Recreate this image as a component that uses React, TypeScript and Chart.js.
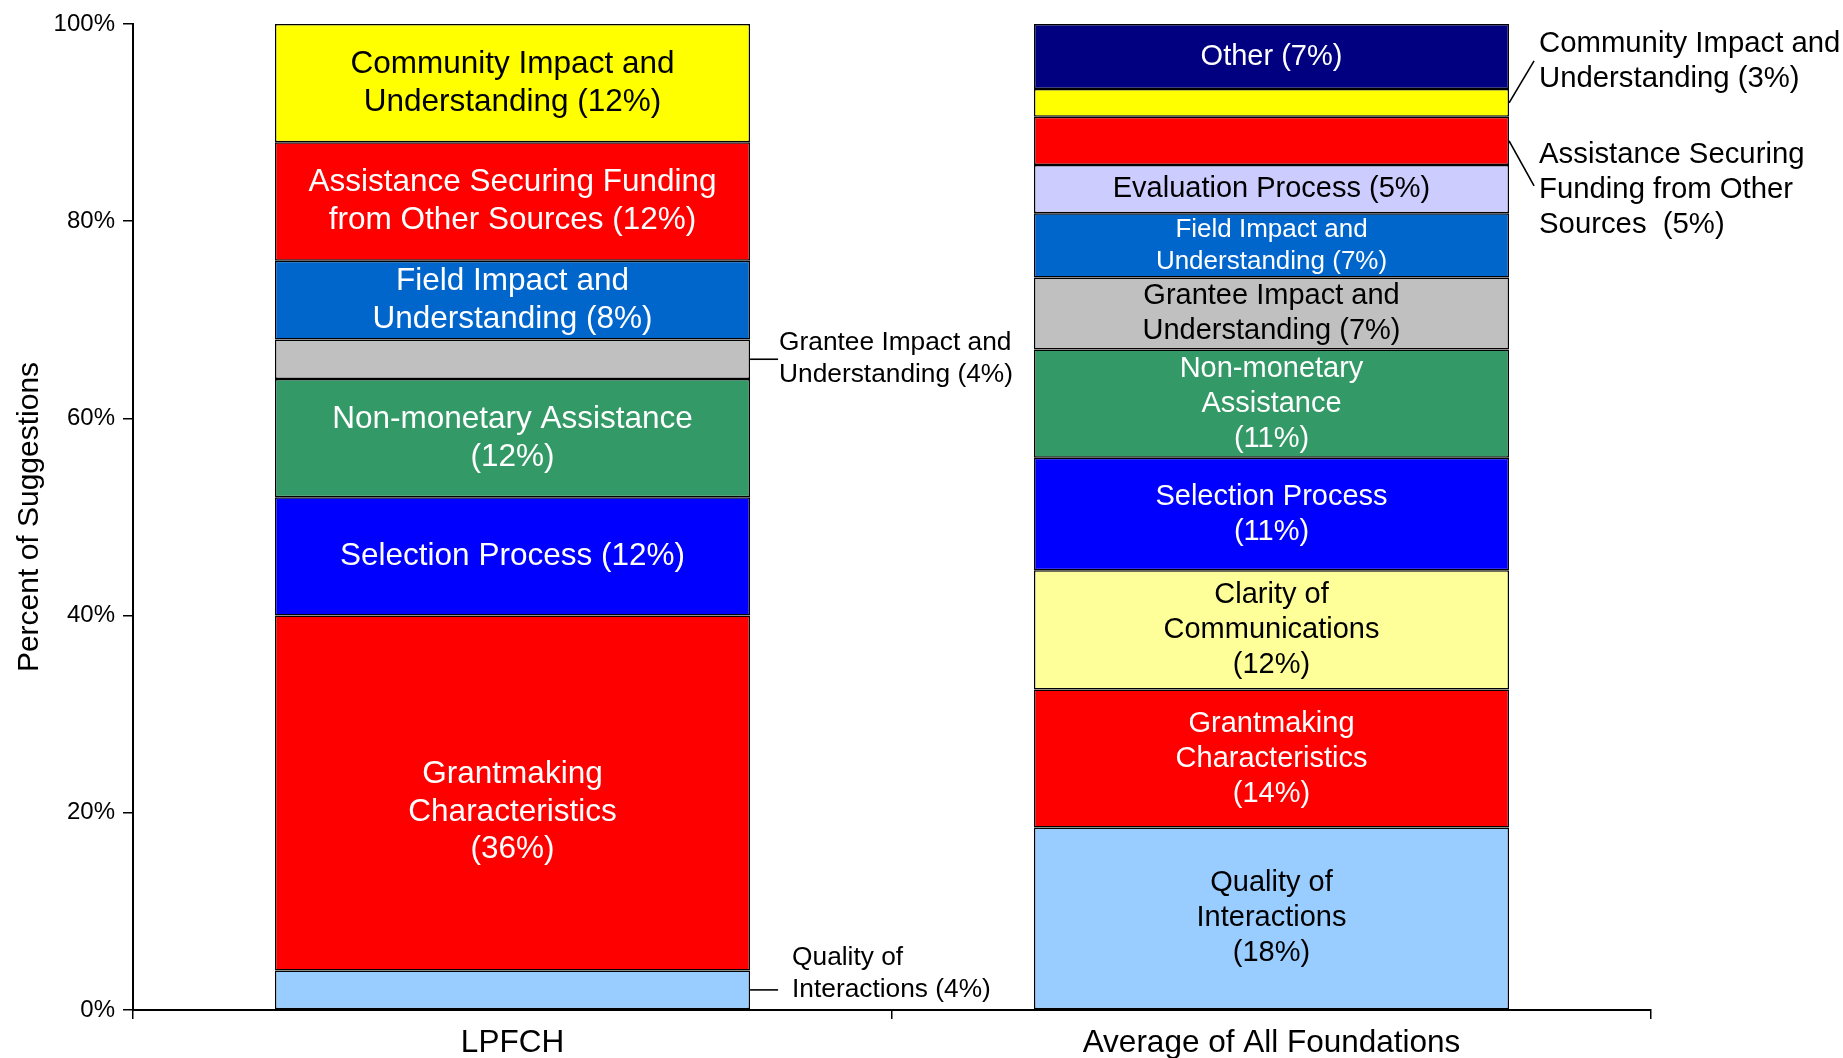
import React, { useEffect, useRef } from "react";
import { Chart, registerables } from "chart.js";

Chart.register(...registerables);

// ---------- DATA ----------
const categories = ["LPFCH", "Average of All Foundations"];

const topics = [
  "Quality of Interactions",
  "Grantmaking Characteristics",
  "Clarity of Communications",
  "Selection Process",
  "Non-monetary Assistance",
  "Grantee Impact and Understanding",
  "Field Impact and Understanding",
  "Evaluation Process",
  "Assistance Securing Funding from Other Sources",
  "Community Impact and Understanding",
  "Other",
];

const lpfchValues = [4, 36, null, 12, 12, 4, 8, null, 12, 12, null];
const averageValues = [18.5, 14.0, 12.1, 11.4, 11.0, 7.3, 6.5, 4.9, 4.9, 2.8, 6.6];

const yTickValues = [0, 20, 40, 60, 80, 100];
const yAxisTitle = "Percent of Suggestions";

// labels drawn inside the segments
const lpfchLabels = [
  null,
  ["", "Grantmaking", "Characteristics", "(36%)"],
  null,
  ["Selection Process (12%)"],
  ["Non-monetary Assistance", "(12%)"],
  null,
  ["Field Impact and", "Understanding (8%)"],
  null,
  ["Assistance Securing Funding", "from Other Sources (12%)"],
  ["Community Impact and", "Understanding (12%)"],
  null,
];
const averageLabels = [
  ["Quality of", "Interactions", "(18%)"],
  ["Grantmaking", "Characteristics", "(14%)"],
  ["Clarity of", "Communications", "(12%)"],
  ["Selection Process", "(11%)"],
  ["Non-monetary", "Assistance", "(11%)"],
  ["Grantee Impact and", "Understanding (7%)"],
  ["Field Impact and", "Understanding (7%)"],
  ["Evaluation Process (5%)"],
  null,
  null,
  ["Other (7%)"],
];

// labels drawn outside with leader lines: [topic index, category index, lines]
const calloutTopics = [5, 0, 9, 8];
const calloutCategories = [0, 0, 1, 1];
const calloutLines = [
  ["Grantee Impact and", "Understanding (4%)"],
  ["Quality of", "Interactions (4%)"],
  ["Community Impact and", "Understanding (3%)"],
  ["Assistance Securing", "Funding from Other", "Sources  (5%)"],
];

// ---------- STYLE ----------
const topicColors = [
  "#99CCFF",
  "#FF0000",
  "#FFFF99",
  "#0000FF",
  "#339966",
  "#C0C0C0",
  "#0066CC",
  "#CCCCFF",
  "#FF0000",
  "#FFFF00",
  "#000080",
];
const topicTextColors = [
  "#000", "#fff", "#000", "#fff", "#fff", "#000", "#fff", "#000", "#fff", "#000", "#fff",
];
const FONT = "'Liberation Sans', Arial, Helvetica, sans-serif";
const innerFontSize = [31.5, 29];
const innerLineHeight = [37.6, 35];
// smaller font for the field segment of the average bar
const smallInner = { topic: 6, cat: 1, size: 26, line: 32 };

// callout geometry (px): leader end dx, dy from bar edge/segment centre, text x offset, text block dy, font, line height
const calloutStyle = [
  { lx: 28, ly: 0, tx: 29, ty: 0, size: 26.3, line: 32 },
  { lx: 28, ly: 0, tx: 42, ty: -16, size: 26.3, line: 32 },
  { lx: 25, ly: -42, tx: 30, ty: -41, size: 29.3, line: 35 },
  { lx: 25, ly: 45, tx: 30, ty: 49, size: 29.3, line: 35 },
];

const labelPlugin = {
  id: "segmentLabels",
  afterDatasetsDraw(chart: any) {
    const ctx = chart.ctx;
    ctx.save();
    ctx.textAlign = "center";
    ctx.textBaseline = "middle";
    const labelSets = [lpfchLabels, averageLabels];
    topics.forEach((_, t) => {
      const meta = chart.getDatasetMeta(t);
      for (let c = 0; c < categories.length; c++) {
        const lines = labelSets[c][t];
        const el: any = meta.data[c];
        if (!lines || !el) continue;
        const props = el.getProps(["x", "y", "base"], true);
        const cy = (props.y + props.base) / 2;
        let size = innerFontSize[c];
        let lh = innerLineHeight[c];
        if (t === smallInner.topic && c === smallInner.cat) {
          size = smallInner.size;
          lh = smallInner.line;
        }
        ctx.font = `${size}px ${FONT}`;
        ctx.fillStyle = topicTextColors[t];
        const n = lines.length;
        lines.forEach((ln: string, i: number) => {
          ctx.fillText(ln, props.x, cy + (i - (n - 1) / 2) * lh);
        });
      }
    });

    // callouts
    calloutTopics.forEach((t, k) => {
      const c = calloutCategories[k];
      const el: any = chart.getDatasetMeta(t).data[c];
      if (!el) return;
      const p = el.getProps(["x", "y", "base", "width"], true);
      const right = p.x + p.width / 2;
      const cy = (p.y + p.base) / 2;
      const st = calloutStyle[k];
      ctx.strokeStyle = "#000";
      ctx.lineWidth = 1.6;
      ctx.beginPath();
      ctx.moveTo(right, cy);
      ctx.lineTo(right + st.lx, cy + st.ly);
      ctx.stroke();
      ctx.font = `${st.size}px ${FONT}`;
      ctx.fillStyle = "#000";
      ctx.textAlign = "left";
      const lines = calloutLines[k];
      const n = lines.length;
      lines.forEach((ln, i) => {
        ctx.fillText(ln, right + st.tx, cy + st.ty + (i - (n - 1) / 2) * st.line);
      });
    });
    ctx.restore();
  },
};

export default function App() {
  const canvasRef = useRef<HTMLCanvasElement | null>(null);

  useEffect(() => {
    if (!canvasRef.current) return;
    const datasets = topics.map((name, t) => ({
      label: name,
      data: [lpfchValues[t], averageValues[t]],
      backgroundColor: topicColors[t],
      borderColor: "#000",
      borderWidth: 1.5,
      borderSkipped: false,
      barPercentage: 0.626,
      categoryPercentage: 1,
    }));

    const chart = new Chart(canvasRef.current, {
      type: "bar",
      data: { labels: categories, datasets },
      plugins: [labelPlugin],
      options: {
        animation: false,
        responsive: false,
        devicePixelRatio: 1,
        layout: { padding: { left: 0, top: 24, right: 192, bottom: 0 } },
        plugins: {
          legend: { display: false },
          tooltip: { enabled: false },
          title: { display: false },
        },
        scales: {
          x: {
            stacked: true,
            offset: true,
            grid: {
              display: true,
              offset: true,
              drawOnChartArea: false,
              drawTicks: true,
              tickLength: 9,
              color: "#000",
              lineWidth: 1.5,
            },
            border: { display: true, color: "#000", width: 2 },
            ticks: {
              color: "#000",
              font: { family: FONT, size: 31.5 },
              padding: 5,
            },
            afterFit(scale: any) {
              scale.height = 48;
            },
          },
          y: {
            stacked: true,
            min: 0,
            max: 100,
            afterBuildTicks(scale: any) {
              scale.ticks = yTickValues.map((v) => ({ value: v }));
            },
            grid: {
              display: true,
              drawOnChartArea: false,
              drawTicks: true,
              tickLength: 10,
              color: "#000",
              lineWidth: 1.5,
            },
            border: { display: true, color: "#000", width: 2 },
            ticks: {
              color: "#000",
              font: { family: FONT, size: 24 },
              padding: 8,
              callback: (v: any) => `${v}%`,
            },
            title: {
              display: true,
              text: yAxisTitle,
              color: "#000",
              font: { family: FONT, size: 30 },
              padding: { top: 12, bottom: 0 },
            },
            afterFit(scale: any) {
              scale.width = 133;
            },
          },
        },
      },
    });
    return () => chart.destroy();
  }, []);

  return (
    <div style={{ position: "fixed", left: 0, top: 0, width: 1843, height: 1058, background: "#fff" }}>
      <canvas ref={canvasRef} width={1843} height={1058} style={{ width: 1843, height: 1058 }} />
    </div>
  );
}
